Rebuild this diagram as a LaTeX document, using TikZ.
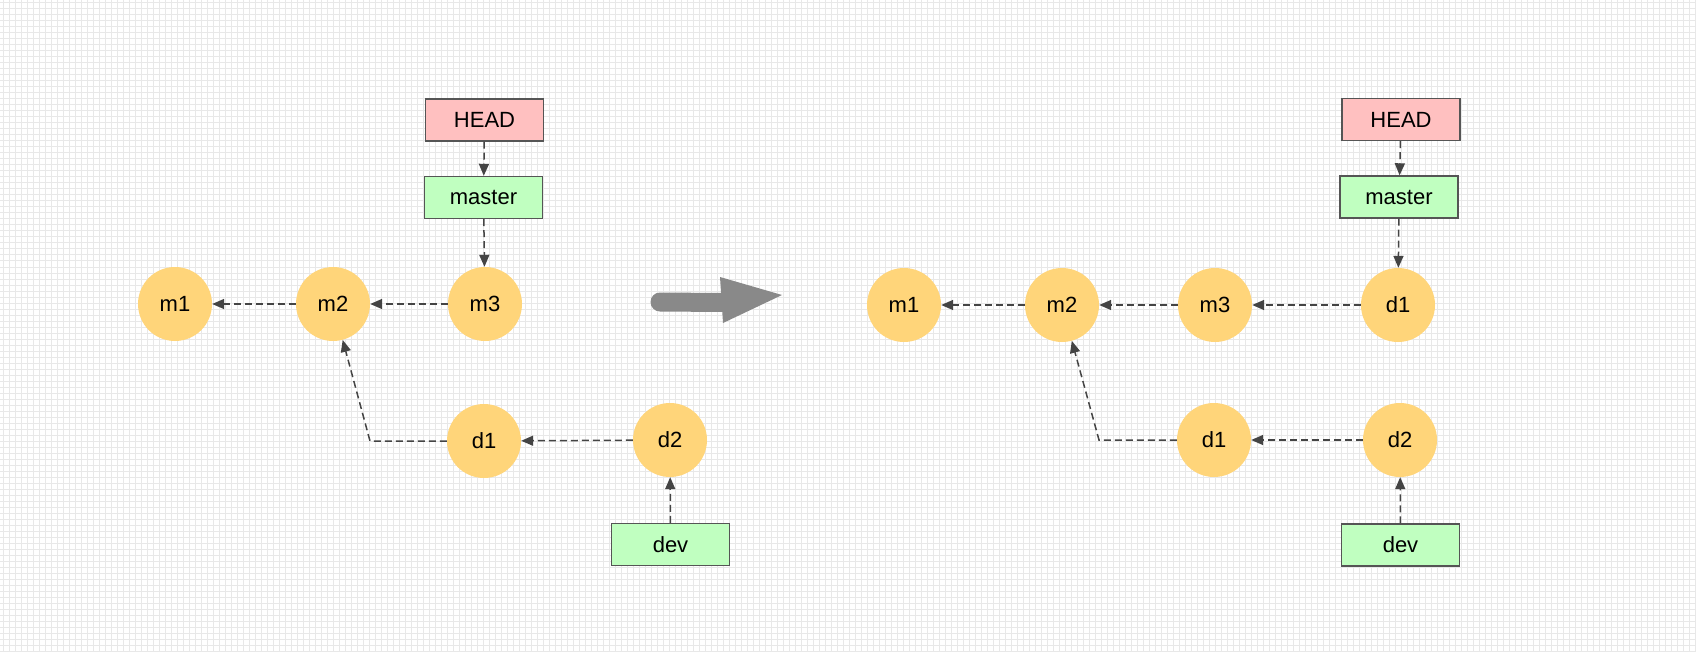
\documentclass[tikz,border=0pt]{standalone}
\usepackage{fontspec}
\setmainfont{Liberation Sans}
\usetikzlibrary{arrows.meta}
\definecolor{commitfill}{RGB}{255,213,122}
\definecolor{headfill}{RGB}{255,192,192}
\definecolor{branchfill}{RGB}{192,255,192}
\definecolor{boxline}{RGB}{85,85,85}
\definecolor{linkcol}{RGB}{68,68,68}
\definecolor{bigarrow}{RGB}{137,137,137}
\definecolor{gridcol}{RGB}{232,232,232}
\tikzset{
  commit/.style={circle, fill=commitfill, minimum size=74pt, inner sep=0pt, font=\fontsize{22}{26}\selectfont},
  refbox/.style={rectangle, draw=boxline, line width=1.4pt, minimum width=118pt, minimum height=42pt, inner sep=0pt, font=\fontsize{22}{26}\selectfont},
  headbox/.style={refbox, fill=headfill},
  branchbox/.style={refbox, fill=branchfill},
  link/.style={draw=linkcol, line width=1.5pt, dash pattern=on 7pt off 4pt, -{Triangle[length=12pt,width=10pt]}},
  gridline/.style={draw=gridcol, line width=1pt}
}
\begin{document}
\begin{tikzpicture}[x=1pt,y=-1pt]
\useasboundingbox (0,0) rectangle (1696,652);
\fill[white] (0,0) rectangle (1696,652);
\foreach \i in {3,9,...,1696} \draw[gridline] (\i,0) -- (\i,652);
\foreach \j in {3,9,...,652} \draw[gridline] (0,\j) -- (1696,\j);

% left diagram
\node[commit] (Lm1) at (175,304) {m1};
\node[commit] (Lm2) at (333,304) {m2};
\node[commit] (Lm3) at (485,304) {m3};
\node[commit] (Ld1) at (484,441) {d1};
\node[commit] (Ld2) at (670,440) {d2};
\node[headbox] (Lhead) at (484.5,120) {HEAD};
\node[branchbox] (Lmaster) at (483.5,197.5) {master};
\node[branchbox] (Ldev) at (670.5,544.5) {dev};
\coordinate (Lbend) at (370,441);

\draw[link] (Lm2) -- (Lm1);
\draw[link] (Lm3) -- (Lm2);
\draw[link] (Lhead) -- (Lmaster);
\draw[link] (Lmaster) -- (Lm3);
\draw[link] (Ld1) -- (Lbend) -- (Lm2);
\draw[link] (Ld2) -- (Ld1);
\draw[link] (Ldev) -- (Ld2);

% big arrow
\draw[bigarrow, line width=19pt, line cap=round] (660,302) -- (722,302.5);
\fill[bigarrow] (720,277) -- (782,295) -- (723,323) -- cycle;

% right diagram
\node[commit] (Rm1) at (904,305) {m1};
\node[commit] (Rm2) at (1062,305) {m2};
\node[commit] (Rm3) at (1215,305) {m3};
\node[commit] (Rtd1) at (1398,305) {d1};
\node[commit] (Rd1) at (1214,440) {d1};
\node[commit] (Rd2) at (1400,440) {d2};
\node[headbox] (Rhead) at (1401,119.5) {HEAD};
\node[branchbox] (Rmaster) at (1399,197) {master};
\node[branchbox] (Rdev) at (1400.5,545) {dev};
\coordinate (Rbend) at (1099,440);

\draw[link] (Rm2) -- (Rm1);
\draw[link] (Rm3) -- (Rm2);
\draw[link] (Rtd1) -- (Rm3);
\draw[link] (Rhead) -- (Rmaster);
\draw[link] (Rmaster) -- (Rtd1);
\draw[link] (Rd1) -- (Rbend) -- (Rm2);
\draw[link] (Rd2) -- (Rd1);
\draw[link] (Rdev) -- (Rd2);
\end{tikzpicture}
\end{document}
